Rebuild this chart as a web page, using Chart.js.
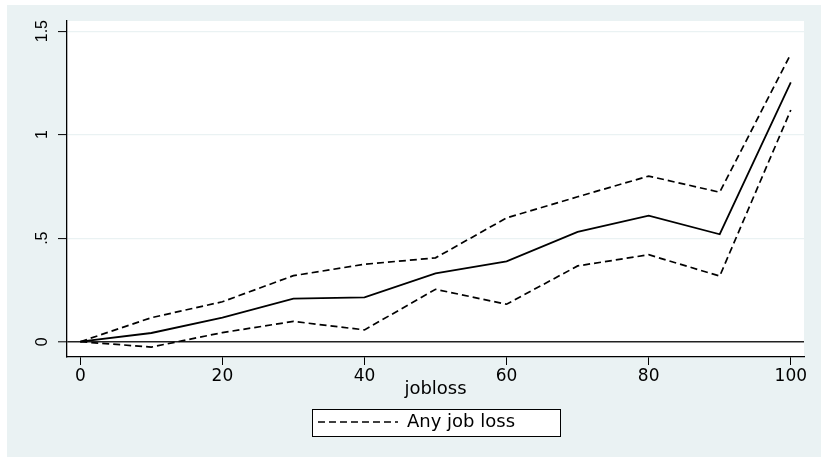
<!DOCTYPE html>
<html>
<head>
<meta charset="utf-8">
<script src="https://cdn.jsdelivr.net/npm/chart.js@4"></script>
<style>
  html, body { margin: 0; padding: 0; background: #ffffff; }
  #panel { position: absolute; left: 7px; top: 5px; width: 814px; height: 452px; background: rgb(234,242,243); }
  canvas { display: block; }
</style>
</head>
<body>
<div id="panel"><canvas id="c" width="814" height="452"></canvas></div>
<script>
// ---- data ----
const jobloss   = [0, 10, 20, 30, 40, 50, 60, 70, 80, 90, 100];
const estimate  = [0, 0.042, 0.116, 0.208, 0.214, 0.330, 0.388, 0.530, 0.609, 0.519, 1.253];
const upperCI   = [0, 0.116, 0.193, 0.319, 0.374, 0.405, 0.598, 0.700, 0.800, 0.722, 1.390];
const lowerCI   = [0, -0.026, 0.044, 0.098, 0.057, 0.253, 0.181, 0.366, 0.420, 0.317, 1.119];
const xTicks    = [0, 20, 40, 60, 80, 100];
const xTickLabels = ['0', '20', '40', '60', '80', '100'];
const yTicks    = [0, 0.5, 1, 1.5];
const yTickLabels = ['0', '.5', '1', '1.5'];
const legendLabel = 'Any job loss';
const xTitle = 'jobloss';

const toPoints = arr => jobloss.map((x, i) => ({x: x, y: arr[i]}));
const dashPattern = [7, 4];

Chart.defaults.color = '#000';

const bgPlugin = {
  id: 'bgPlugin',
  beforeDraw(chart) {
    const ctx = chart.ctx, a = chart.chartArea;
    ctx.save();
    ctx.fillStyle = '#ffffff';
    ctx.fillRect(a.left, a.top, a.right - a.left, a.bottom - a.top);
    const hb = chart.legend && chart.legend.legendHitBoxes && chart.legend.legendHitBoxes[0];
    if (hb) {
      ctx.fillStyle = '#ffffff';
      ctx.strokeStyle = '#000000';
      ctx.lineWidth = 1;
      ctx.fillRect(hb.left - 6, hb.top - 4, 248, 27);
      ctx.strokeRect(Math.round(hb.left - 6) + 0.5, Math.round(hb.top - 4) + 0.5, 248, 27);
    }
    ctx.restore();
  }
};

new Chart(document.getElementById('c'), {
  type: 'line',
  data: {
    datasets: [
      { label: legendLabel, data: toPoints(upperCI), borderColor: '#000', borderWidth: 1.7, borderDash: dashPattern, pointRadius: 0, fill: false, tension: 0 },
      { label: 'Estimate', data: toPoints(estimate), borderColor: '#000', borderWidth: 1.8, pointRadius: 0, fill: false, tension: 0 },
      { label: 'Lower', data: toPoints(lowerCI), borderColor: '#000', borderWidth: 1.7, borderDash: dashPattern, pointRadius: 0, fill: false, tension: 0 }
    ]
  },
  options: {
    responsive: false,
    animation: false,
    devicePixelRatio: 1,
    layout: { padding: { left: 22, right: 17, top: 16, bottom: 16 } },
    plugins: {
      tooltip: { enabled: false },
      legend: {
        position: 'bottom',
        labels: {
          generateLabels: chart => Chart.defaults.plugins.legend.labels.generateLabels(chart)
            .filter(item => item.text === legendLabel)
            .map(item => Object.assign(item, { lineDash: dashPattern, lineWidth: 1.4, strokeStyle: '#000', fillStyle: '#000' })),
          usePointStyle: true,
          pointStyle: 'line',
          pointStyleWidth: 80,
          padding: 10,
          color: '#000',
          font: { family: 'DejaVu Sans', size: 18 }
        }
      }
    },
    scales: {
      x: {
        type: 'linear',
        min: -1.87,
        max: 101.86,
        afterBuildTicks: s => { s.ticks = xTicks.map(v => ({value: v})); },
        afterFit: s => { s.height = 46; },
        grid: { drawOnChartArea: false, drawTicks: true, tickLength: 8, tickColor: '#000', tickWidth: 1 },
        border: { color: '#000', width: 1.3 },
        ticks: {
          padding: 1,
          maxRotation: 0,
          autoSkip: false,
          color: '#000',
          font: { family: 'DejaVu Sans', size: 17 },
          callback: v => xTickLabels[xTicks.indexOf(v)]
        },
        title: { display: true, text: xTitle, color: '#000', font: { family: 'DejaVu Sans', size: 18 }, padding: { top: 0, bottom: 3 } }
      },
      y: {
        type: 'linear',
        min: -0.0739,
        max: 1.549,
        afterBuildTicks: s => { s.ticks = yTicks.map(v => ({value: v})); },
        afterFit: s => { s.width = 38; },
        grid: {
          drawOnChartArea: true,
          drawTicks: true,
          tickLength: 9,
          tickColor: '#000',
          tickWidth: 1,
          color: c => (c.tick && c.tick.value === 0) ? '#222' : 'rgb(234,242,243)',
          lineWidth: c => (c.tick && c.tick.value === 0) ? 1.6 : 1.2
        },
        border: { color: '#000', width: 1.3 },
        ticks: {
          minRotation: 90,
          maxRotation: 90,
          crossAlign: 'center',
          padding: 4,
          autoSkip: false,
          color: '#000',
          font: { family: 'Liberation Sans', size: 16 },
          callback: v => yTickLabels[yTicks.indexOf(v)]
        }
      }
    }
  },
  plugins: [bgPlugin]
});
</script>
</body>
</html>
